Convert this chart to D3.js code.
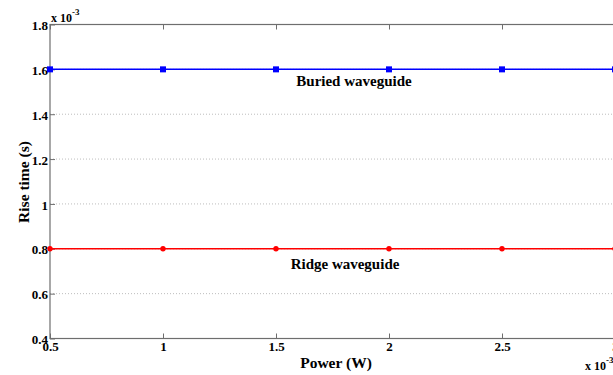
<!doctype html>
<html lang="en">
<head>
  <meta charset="utf-8">
  <title>Rise time vs power</title>
  <script src="https://cdn.jsdelivr.net/npm/d3@7"></script>
  <style>
    body { margin: 0; background: #fff; overflow: hidden; }
    svg text { font-family: "Liberation Serif", "Times New Roman", Times, "DejaVu Serif", serif !important; font-weight: bold; fill: #000; }
  </style>
</head>
<body>
<script>
  // values in units of 10^-3
  const power = [0.5, 1, 1.5, 2, 2.5, 3];
  const buried = [1.6, 1.6, 1.6, 1.6, 1.6, 1.6];
  const ridge = [0.8, 0.8, 0.8, 0.8, 0.8, 0.8];
  const xTicks = [0.5, 1, 1.5, 2, 2.5, 3];
  const yTicks = [0.4, 0.6, 0.8, 1, 1.2, 1.4, 1.6, 1.8];

  const W = 613, H = 375;
  const mLeft = 50, mRight = 615, mTop = 24.5, mBottom = 338.5;
  const serif = "'Liberation Serif', 'Times New Roman', Times, serif";

  const svg = d3.select("body").append("svg")
    .attr("width", W).attr("height", H)
    .attr("font-family", serif);

  const x = d3.scaleLinear().domain([0.5, 3]).range([mLeft, mRight]);
  const y = d3.scaleLinear().domain([0.4, 1.8]).range([mBottom, mTop]);

  // horizontal dotted grid
  svg.append("g").selectAll("line")
    .data(yTicks.filter(d => d > 0.4 && d < 1.8))
    .join("line")
    .attr("x1", mLeft).attr("x2", mRight)
    .attr("y1", d => y(d)).attr("y2", d => y(d))
    .attr("stroke", "#bdbdbd").attr("stroke-width", 1)
    .attr("stroke-dasharray", "1,2");

  // box
  svg.append("rect")
    .attr("x", mLeft).attr("y", mTop)
    .attr("width", mRight - mLeft).attr("height", mBottom - mTop)
    .attr("fill", "none").attr("stroke", "#6e6e6e").attr("stroke-width", 1.2);

  // x axis (ticks inward)
  const xAxis = svg.append("g").attr("transform", `translate(0,${mBottom})`)
    .call(d3.axisBottom(x).tickValues(xTicks).tickSizeInner(-5).tickSizeOuter(0)
      .tickFormat(d3.format("~g")));
  xAxis.attr("font-family", serif).attr("font-size", 13);
  xAxis.select(".domain").remove();
  xAxis.selectAll("line").attr("stroke", "#6e6e6e");
  xAxis.selectAll("text").attr("y", 12.5).attr("dy", 0);

  const xTop = svg.append("g").attr("transform", `translate(0,${mTop})`)
    .call(d3.axisTop(x).tickValues(xTicks).tickSizeInner(-5).tickSizeOuter(0).tickFormat(""));
  xTop.select(".domain").remove();
  xTop.selectAll("line").attr("stroke", "#6e6e6e");

  // y axis
  const yAxis = svg.append("g").attr("transform", `translate(${mLeft},0)`)
    .call(d3.axisLeft(y).tickValues(yTicks).tickSizeInner(-5).tickSizeOuter(0)
      .tickFormat(d3.format("~g")));
  yAxis.attr("font-family", serif).attr("font-size", 13);
  yAxis.select(".domain").remove();
  yAxis.selectAll("line").attr("stroke", "#6e6e6e");
  yAxis.selectAll("text").attr("x", -2).attr("dy", "0.4em");

  // lines
  const line = d3.line().x((d, i) => x(power[i])).y(d => y(d));
  svg.append("path").datum(buried).attr("d", line)
    .attr("fill", "none").attr("stroke", "#0000ff").attr("stroke-width", 1.5);
  svg.append("path").datum(ridge).attr("d", line)
    .attr("fill", "none").attr("stroke", "#ff0000").attr("stroke-width", 1.5);

  svg.append("g").selectAll("rect").data(buried).join("rect")
    .attr("x", (d, i) => x(power[i]) - 3).attr("y", d => y(d) - 3)
    .attr("width", 6).attr("height", 6).attr("fill", "#0000ff");
  svg.append("g").selectAll("circle").data(ridge).join("circle")
    .attr("cx", (d, i) => x(power[i])).attr("cy", d => y(d))
    .attr("r", 2.7).attr("fill", "#ff0000");

  // annotations
  svg.append("text").attr("x", 354).attr("y", 86).attr("text-anchor", "middle")
    .attr("font-size", 15).text("Buried waveguide");
  svg.append("text").attr("x", 345).attr("y", 269).attr("text-anchor", "middle")
    .attr("font-size", 15).text("Ridge waveguide");

  // axis labels
  svg.append("text").attr("x", 336).attr("y", 368).attr("text-anchor", "middle")
    .attr("font-size", 15.5).text("Power (W)");
  svg.append("text").attr("transform", "translate(29,182) rotate(-90)")
    .attr("text-anchor", "middle").attr("font-size", 15.5).text("Rise time (s)");

  // exponent labels
  const e1 = svg.append("text").attr("x", 51).attr("y", 21.5).attr("font-size", 12);
  e1.append("tspan").text("x 10");
  e1.append("tspan").attr("dy", -7).attr("font-size", 9).text("-3");
  const e2 = svg.append("text").attr("x", 585).attr("y", 370).attr("font-size", 12);
  e2.append("tspan").text("x 10");
  e2.append("tspan").attr("dy", -7).attr("font-size", 9).text("-3");
</script>
</body>
</html>
